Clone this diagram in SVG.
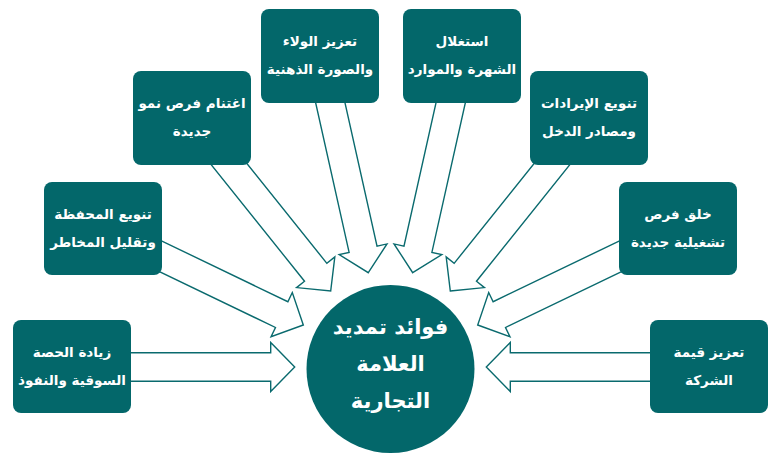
<svg xmlns="http://www.w3.org/2000/svg" width="782" height="460" viewBox="0 0 782 460">
<style>
.box{fill:#03676a;}
.arw{fill:#ffffff;stroke:#0a6a6e;stroke-width:1.4;stroke-linejoin:miter;}
.lbl{fill:#ffffff;font-family:"DejaVu Sans",sans-serif;font-weight:bold;font-size:13.5px;text-anchor:middle;direction:rtl;}
.ctr{fill:#ffffff;font-family:"DejaVu Sans",sans-serif;font-weight:bold;font-size:21px;text-anchor:middle;direction:rtl;}
</style>
<defs>
<polygon id="arrow" points="0,0 -24,-24.5 -24,-14.3 -222,-14.3 -222,14.3 -24,14.3 -24,24.5"/>
</defs>
<rect width="782" height="460" fill="#ffffff"/>
<g id="connectors">
<use href="#arrow" class="arw" transform="translate(294.7,367) rotate(0)"/>
<use href="#arrow" class="arw" transform="translate(303.3,325) rotate(25.7)"/>
<use href="#arrow" class="arw" transform="translate(330.7,291) rotate(51.3)"/>
<use href="#arrow" class="arw" transform="translate(368.3,272.7) rotate(77.4)"/>
<use href="#arrow" class="arw" transform="translate(412.7,272.7) rotate(102.6)"/>
<use href="#arrow" class="arw" transform="translate(450.3,291) rotate(128.7)"/>
<use href="#arrow" class="arw" transform="translate(477.7,325) rotate(154.3)"/>
<use href="#arrow" class="arw" transform="translate(486.3,367) rotate(180)"/>
</g>
<g id="center">
<circle cx="390.5" cy="369" r="84" class="box"/>
<text class="ctr" x="390.5" y="334">فوائد تمديد</text>
<text class="ctr" x="390.5" y="371">العلامة</text>
<text class="ctr" x="390.5" y="408">التجارية</text>
</g>
<g id="n1">
<rect x="13" y="320" width="118" height="93" rx="8" class="box"/>
<text class="lbl" x="72" y="357">زيادة الحصة</text>
<text class="lbl" x="72" y="385">السوقية والنفوذ</text>
</g>
<g id="n2">
<rect x="44" y="182" width="118" height="93" rx="8" class="box"/>
<text class="lbl" x="103" y="219">تنويع المحفظة</text>
<text class="lbl" x="103" y="247">وتقليل المخاطر</text>
</g>
<g id="n3">
<rect x="133" y="71" width="118" height="94" rx="8" class="box"/>
<text class="lbl" x="192" y="108">اغتنام فرص نمو</text>
<text class="lbl" x="192" y="136">جديدة</text>
</g>
<g id="n4">
<rect x="261" y="9" width="118" height="94" rx="8" class="box"/>
<text class="lbl" x="320" y="46">تعزيز الولاء</text>
<text class="lbl" x="320" y="74">والصورة الذهنية</text>
</g>
<g id="n5">
<rect x="403" y="9" width="118" height="94" rx="8" class="box"/>
<text class="lbl" x="462" y="46">استغلال</text>
<text class="lbl" x="462" y="74">الشهرة والموارد</text>
</g>
<g id="n6">
<rect x="530" y="71" width="118" height="94" rx="8" class="box"/>
<text class="lbl" x="589" y="108">تنويع الإيرادات</text>
<text class="lbl" x="589" y="136">ومصادر الدخل</text>
</g>
<g id="n7">
<rect x="619" y="182" width="118" height="93" rx="8" class="box"/>
<text class="lbl" x="678" y="219">خلق فرص</text>
<text class="lbl" x="678" y="247">تشغيلية جديدة</text>
</g>
<g id="n8">
<rect x="650" y="320" width="118" height="93" rx="8" class="box"/>
<text class="lbl" x="709" y="357">تعزيز قيمة</text>
<text class="lbl" x="709" y="385">الشركة</text>
</g>
</svg>
